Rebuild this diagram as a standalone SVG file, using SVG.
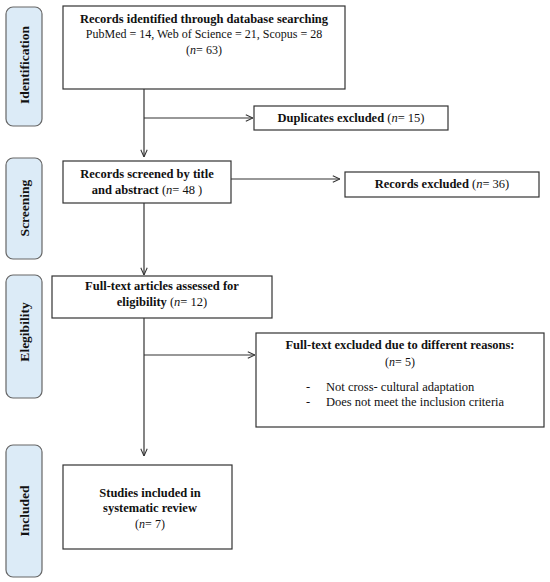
<svg xmlns="http://www.w3.org/2000/svg" width="550" height="582" viewBox="0 0 550 582">
<defs>
<style>
.box{fill:#fff;stroke:#333;stroke-width:1.2}
.pill{fill:#dcebf7;stroke:#666;stroke-width:1.2}
.b{font-family:"Liberation Serif","Times New Roman",serif;font-weight:bold;font-size:12.5px;fill:#111;text-anchor:middle}
.r{font-family:"Liberation Serif","Times New Roman",serif;font-size:12px;fill:#111;text-anchor:middle}
.rl{font-family:"Liberation Serif","Times New Roman",serif;font-size:12.5px;fill:#111}
.pl{font-family:"Liberation Serif","Times New Roman",serif;font-weight:bold;font-size:13.5px;fill:#111;text-anchor:middle}
.c{fill:none;stroke:#333;stroke-width:1.2}
</style>
<marker id="ah" viewBox="0 0 10 10" refX="10" refY="5" markerWidth="8" markerHeight="8" markerUnits="userSpaceOnUse" orient="auto">
<path d="M1,1 L10,5 L1,9" fill="none" stroke="#333" stroke-width="1.3"/>
</marker>
</defs>
<rect width="550" height="582" fill="#fff"/>

<g id="phase-identification">
<rect class="pill" x="6" y="7" width="36" height="119" rx="7"/>
<text class="pl" transform="translate(29,65) rotate(-90)">Identification</text>
</g>
<g id="phase-screening">
<rect class="pill" x="6" y="158" width="36" height="101" rx="7"/>
<text class="pl" transform="translate(29,208) rotate(-90)">Screening</text>
</g>
<g id="phase-eligibility">
<rect class="pill" x="6" y="275" width="36" height="123" rx="7"/>
<text class="pl" transform="translate(29,332) rotate(-90)">Elegibility</text>
</g>
<g id="phase-included">
<rect class="pill" x="6" y="445" width="36" height="132" rx="7"/>
<text class="pl" transform="translate(29,511) rotate(-90)">Included</text>
</g>

<g id="connectors">
<path class="c" d="M144,89 V157" marker-end="url(#ah)"/>
<path class="c" d="M144,118 H253" marker-end="url(#ah)"/>
<path class="c" d="M231,179 H340" marker-end="url(#ah)"/>
<path class="c" d="M144,203 V275" marker-end="url(#ah)"/>
<path class="c" d="M144,318 V456" marker-end="url(#ah)"/>
<path class="c" d="M144,355 H255" marker-end="url(#ah)"/>
</g>

<g id="records-identified">
<rect class="box" x="63" y="6" width="282" height="83"/>
<text class="b" x="204" y="23">Records identified through database searching</text>
<text class="r" x="204" y="38">PubMed = 14, Web of Science = 21, Scopus = 28</text>
<text class="r" x="204" y="54">(<tspan font-style="italic">n</tspan>= 63)</text>
</g>

<g id="duplicates-excluded">
<rect class="box" x="254" y="106" width="194" height="24"/>
<text class="b" x="351" y="122">Duplicates excluded <tspan font-weight="normal">(<tspan font-style="italic">n</tspan>= 15)</tspan></text>
</g>

<g id="records-screened">
<rect class="box" x="63" y="161" width="168" height="42"/>
<text class="b" x="147" y="178">Records screened by title</text>
<text class="b" x="147" y="194">and abstract  <tspan font-weight="normal">(<tspan font-style="italic">n</tspan>= 48 )</tspan></text>
</g>

<g id="records-excluded">
<rect class="box" x="345" y="172" width="194" height="25"/>
<text class="b" x="442" y="188">Records excluded <tspan font-weight="normal">(<tspan font-style="italic">n</tspan>= 36)</tspan></text>
</g>

<g id="full-text-assessed">
<rect class="box" x="52" y="276" width="220" height="42"/>
<text class="b" x="162" y="290">Full-text articles assessed for</text>
<text class="b" x="162" y="306">eligibility  <tspan font-weight="normal">(<tspan font-style="italic">n</tspan>= 12)</tspan></text>
</g>

<g id="full-text-excluded">
<rect class="box" x="256" y="333" width="288" height="94"/>
<text class="b" x="400" y="349">Full-text excluded due to different reasons:</text>
<text class="r" x="400" y="366">(<tspan font-style="italic">n</tspan>= 5)</text>
<text class="rl" x="306" y="391">-</text>
<text class="rl" x="326" y="391">Not cross- cultural adaptation</text>
<text class="rl" x="306" y="406">-</text>
<text class="rl" x="326" y="406">Does not meet the inclusion criteria</text>
</g>

<g id="studies-included">
<rect class="box" x="63" y="465" width="169" height="84"/>
<text class="b" x="150" y="497">Studies included in</text>
<text class="b" x="150" y="512">systematic review</text>
<text class="r" x="150" y="528">(<tspan font-style="italic">n</tspan>= 7)</text>
</g>
</svg>
